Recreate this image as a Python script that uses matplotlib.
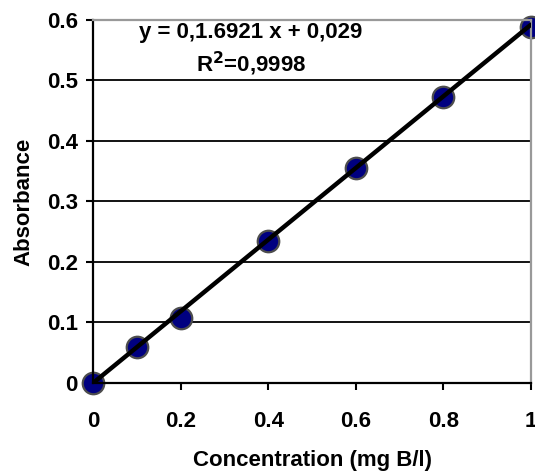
import numpy as np
import matplotlib
matplotlib.use("Agg")
from matplotlib import pyplot as plt

plt.rcParams['font.family'] = ['Liberation Sans', 'DejaVu Sans']
plt.rcParams['font.weight'] = 'bold'

conc = [0, 0.1, 0.2, 0.4, 0.6, 0.8, 1.0]
absorb = [0.0, 0.059, 0.108, 0.235, 0.355, 0.473, 0.588]
xticks = [0, 0.2, 0.4, 0.6, 0.8, 1]
xticklabels = ['0', '0.2', '0.4', '0.6', '0.8', '1']
yticks = [0, 0.1, 0.2, 0.3, 0.4, 0.5, 0.6]
yticklabels = ['0', '0.1', '0.2', '0.3', '0.4', '0.5', '0.6']

fig = plt.figure(figsize=(5.35, 4.74), dpi=100)
ax = fig.add_axes([0.174, 0.192, 0.8185, 0.766])

for yv in yticks[1:-1]:
    ax.axhline(yv, color='black', lw=1.3, zorder=1)

# regression line through the data
k, b = np.polyfit(conc, absorb, 1)
xs = np.array([0, 1.0])
ax.plot(xs, k * xs, color='black', lw=3.2, zorder=3, solid_capstyle='round')
ax.scatter(conc, absorb, s=240, color='#000080', edgecolor='#4d4d4d', linewidth=1.6, zorder=2, clip_on=False)

ax.set_xlim(0, 1)
ax.set_ylim(0, 0.6)
ax.set_xticks(xticks)
ax.set_xticklabels(xticklabels, fontsize=16, fontweight='bold')
ax.set_yticks(yticks)
ax.set_yticklabels(yticklabels, fontsize=16, fontweight='bold')
ax.tick_params(axis='both', direction='out', length=5, width=1.5, color='black')
ax.tick_params(axis='x', pad=15)
ax.tick_params(axis='y', pad=6)

for s in ['left', 'bottom']:
    ax.spines[s].set_color('black')
    ax.spines[s].set_linewidth(1.6)
for s in ['top', 'right']:
    ax.spines[s].set_color('#999999')
    ax.spines[s].set_linewidth(1.6)

ax.set_xlabel('Concentration (mg B/l)', fontsize=16, fontweight='bold', labelpad=13)
ax.set_ylabel('Absorbance', fontsize=16, fontweight='bold', labelpad=9)

ax.text(0.36, 0.5785, 'y = 0,1.6921 x + 0,029', fontsize=16, fontweight='bold', ha='center', va='center')
ax.text(0.36, 0.527, 'R$^{\\mathbf{2}}$=0,9998', fontsize=16, fontweight='bold', ha='center', va='center')

fig.savefig('out.png', dpi=100)
